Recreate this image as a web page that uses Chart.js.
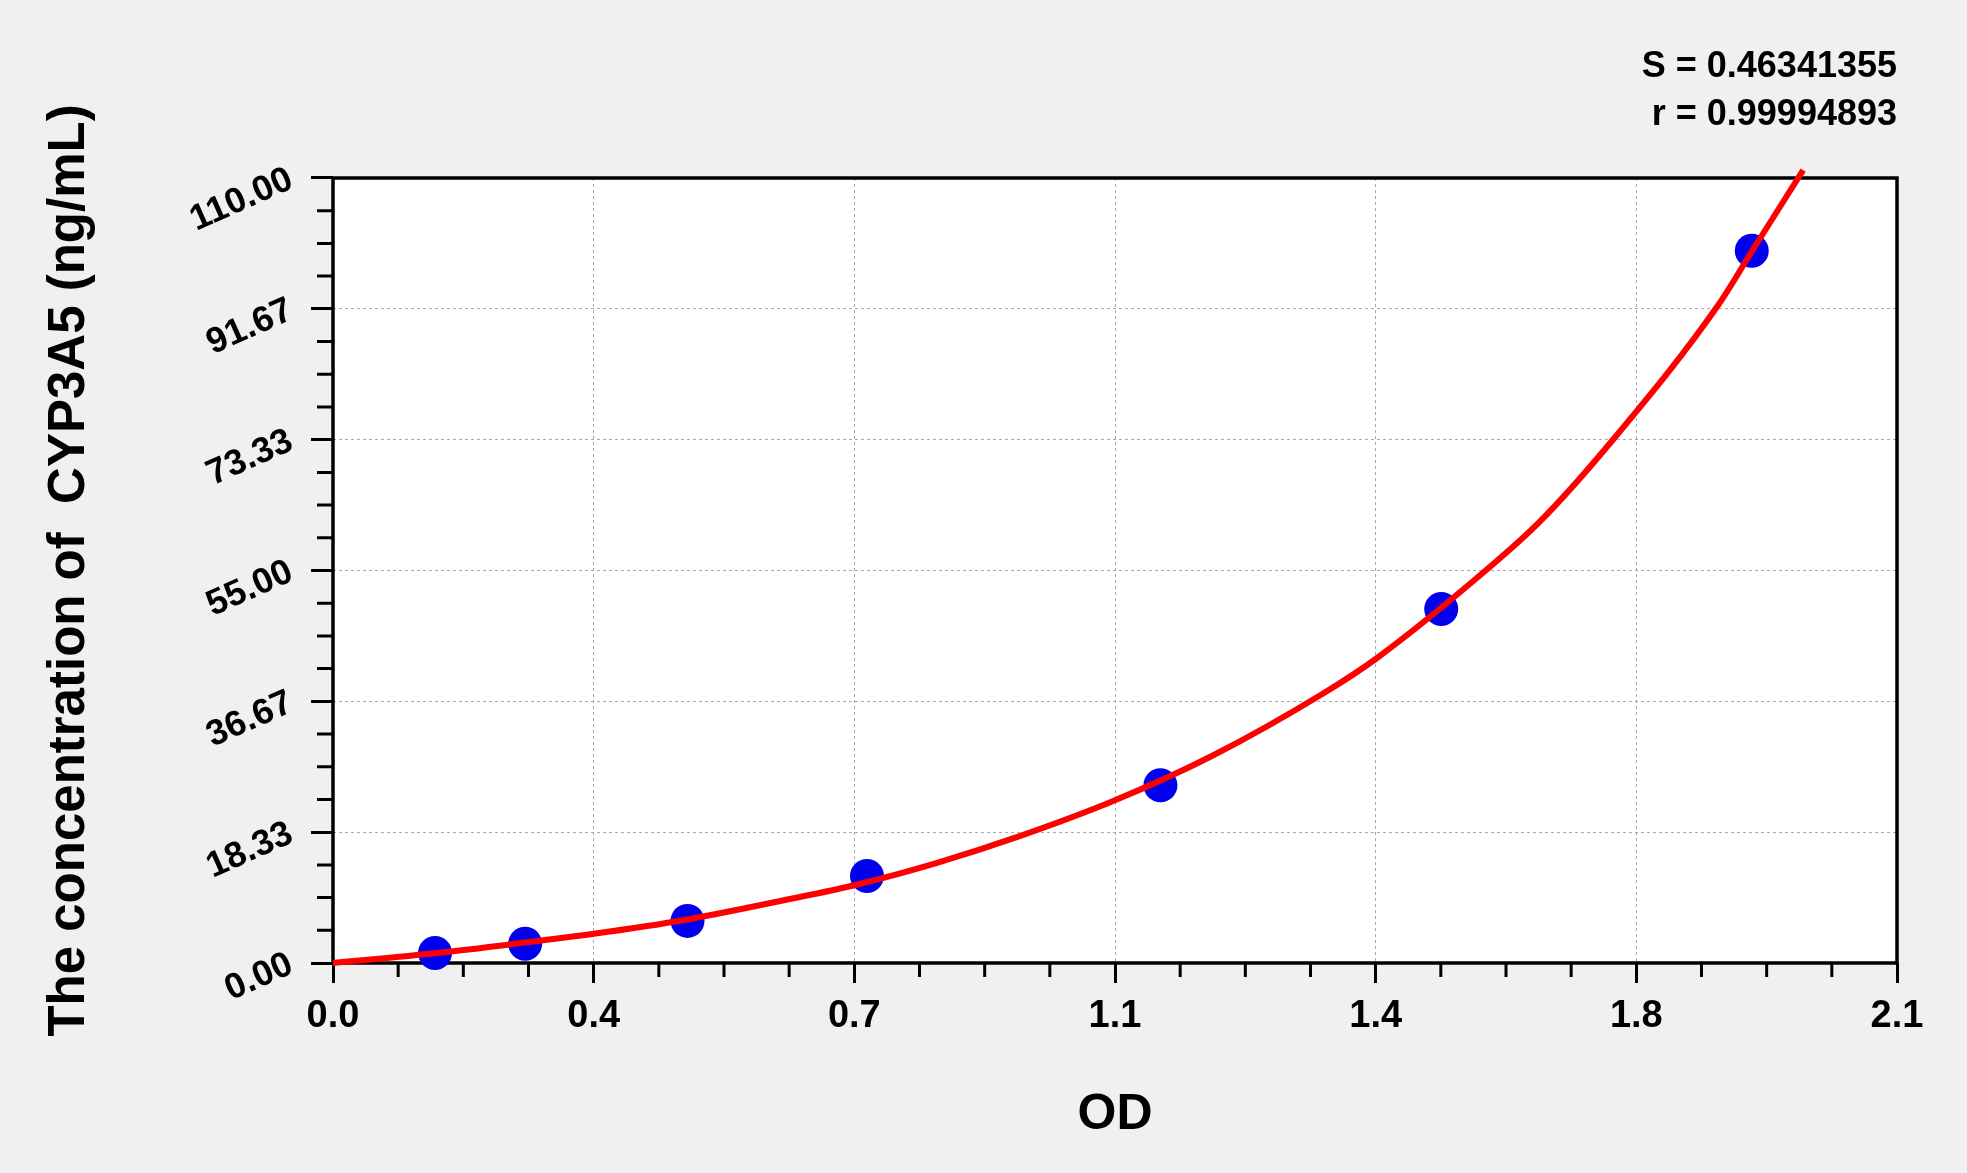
<!DOCTYPE html>
<html>
<head>
<meta charset="utf-8">
<title>CYP3A5 standard curve</title>
<script src="https://cdn.jsdelivr.net/npm/chart.js@4.4.1/dist/chart.umd.min.js"></script>
<style>
    html, body { margin: 0; padding: 0; background: #f0f0f0; }
    #wrap { width: 1967px; height: 1173px; }
</style>
</head>
<body>
<div id="wrap"><canvas id="stdCurve" width="1967" height="1173"></canvas></div>
<script>
// standards (OD, concentration)
const STD_OD = [0.137, 0.258, 0.476, 0.717, 1.111, 1.488, 1.905];
const STD_CONC = [1.4, 2.7, 5.9, 12.2, 24.9, 49.6, 99.8];

// points
const CURVE_OD = [0, 0.14, 0.26, 0.35, 0.47, 0.61, 0.70, 0.81, 0.92, 1.05,
    1.18, 1.33, 1.40, 1.55, 1.62, 1.72, 1.86, 1.905, 1.974];
const CURVE_CONC = [0, 1.4, 2.9, 4.1, 6.0, 8.9, 10.9, 14.0, 17.7, 22.8,
    29.0, 37.8, 42.6, 55.2, 61.8, 73.5, 92.2, 99.7, 111.1];

const X_TICKS = [0, 0.35, 0.7, 1.05, 1.4, 1.75, 2.1];
const X_TICK_LABELS = ['0.0', '0.4', '0.7', '1.1', '1.4', '1.8', '2.1'];
const Y_TICKS = [0, 18.33, 36.67, 55.0, 73.33, 91.67, 110.0];

const FIT_TEXT = ['S = 0.46341355', 'r = 0.99994893'];
const X_TITLE = 'OD';
const Y_TITLE = 'The concentration of  CYP3A5 (ng/mL)';

Chart.defaults.font.family = "'Liberation Sans', Arial, sans-serif";
Chart.defaults.color = '#000';

function toPoints(xs, ys) {
    return xs.map(function (x, i) { return {x: x, y: ys[i]}; });
}

// white plot box, black frame and the minor ticks
const plotFrame = {
    id: 'plotFrame',
    beforeDraw(chart) {
        const a = chart.chartArea;
        const ctx = chart.ctx;
        ctx.save();
        ctx.fillStyle = '#ffffff';
        ctx.fillRect(a.left, a.top, a.right - a.left, a.bottom - a.top);
        ctx.restore();
    },
    beforeDatasetsDraw(chart) {
        const a = chart.chartArea;
        const ctx = chart.ctx;
        const xs = chart.scales.x;
        const ys = chart.scales.y;
        var i, k, step, p;
        ctx.save();
        ctx.strokeStyle = '#000';
        ctx.lineWidth = 3;
        ctx.beginPath();
        for (i = 0; i < X_TICKS.length - 1; ++i) {
            step = (X_TICKS[i + 1] - X_TICKS[i]) / 4;
            for (k = 1; k < 4; ++k) {
                p = xs.getPixelForValue(X_TICKS[i] + k * step);
                ctx.moveTo(p, a.bottom);
                ctx.lineTo(p, a.bottom + 14);
            }
        }
        for (i = 0; i < Y_TICKS.length - 1; ++i) {
            step = (Y_TICKS[i + 1] - Y_TICKS[i]) / 4;
            for (k = 1; k < 4; ++k) {
                p = ys.getPixelForValue(Y_TICKS[i] + k * step);
                ctx.moveTo(a.left, p);
                ctx.lineTo(a.left - 16, p);
            }
        }
        ctx.stroke();
        ctx.lineWidth = 3.5;
        ctx.strokeRect(a.left, a.top, a.right - a.left, a.bottom - a.top);
        ctx.restore();
    }
};

const stdCurve = new Chart(document.getElementById('stdCurve').getContext('2d'), {
    type: 'scatter',
    data: {
        datasets: [
            {
                label: 'fit',
                data: toPoints(CURVE_OD, CURVE_CONC),
                showLine: true,
                borderColor: '#ff0000',
                borderWidth: 6,
                pointRadius: 0,
                cubicInterpolationMode: 'monotone',
                clip: false
            },
            {
                label: 'standards',
                data: toPoints(STD_OD, STD_CONC),
                pointRadius: 17,
                pointBackgroundColor: '#0000ee',
                pointBorderWidth: 0,
                clip: false
            }
        ]
    },
    options: {
        responsive: false,
        animation: false,
        events: [],
        layout: {padding: {top: 0, left: 0, right: 70, bottom: 0}},
        plugins: {
            legend: {display: false},
            tooltip: {enabled: false},
            title: {
                display: true,
                text: FIT_TEXT,
                align: 'end',
                color: '#000',
                font: {size: 36, weight: 'bold', lineHeight: 1.3333},
                padding: {top: 43, bottom: 39}
            }
        },
        scales: {
            x: {
                type: 'linear',
                min: 0,
                max: 2.1,
                afterBuildTicks: function (s) { s.ticks = X_TICKS.map(function (v) { return {value: v}; }); },
                afterFit: function (s) { s.height = 210; },
                ticks: {
                    autoSkip: false,
                    maxRotation: 0,
                    padding: 11,
                    font: {size: 38, weight: 'bold'},
                    callback: function (v, i) { return X_TICK_LABELS[i]; }
                },
                grid: {color: '#a8a8a8', lineWidth: 1, tickLength: 20, tickWidth: 3, tickColor: '#000', tickBorderDash: []},
                border: {display: false, dash: [3, 3]},
                title: {
                    display: true,
                    text: X_TITLE,
                    font: {size: 50, weight: 'bold'},
                    padding: {top: 0, bottom: 28}
                }
            },
            y: {
                type: 'linear',
                min: 0,
                max: 110,
                afterBuildTicks: function (s) { s.ticks = Y_TICKS.map(function (v) { return {value: v}; }); },
                afterFit: function (s) { s.width = 333; },
                ticks: {
                    autoSkip: false,
                    minRotation: 24,
                    maxRotation: 24,
                    padding: 20,
                    font: {size: 36, weight: 'bold'},
                    callback: function (v) { return v.toFixed(2); }
                },
                grid: {color: '#a8a8a8', lineWidth: 1, tickLength: 22, tickWidth: 3, tickColor: '#000', tickBorderDash: []},
                border: {display: false, dash: [3, 3]},
                title: {
                    display: true,
                    text: Y_TITLE,
                    font: {size: 51, weight: 'bold'},
                    padding: {top: 39, bottom: 0}
                }
            }
        }
    },
    plugins: [plotFrame]
});
</script>
</body>
</html>
